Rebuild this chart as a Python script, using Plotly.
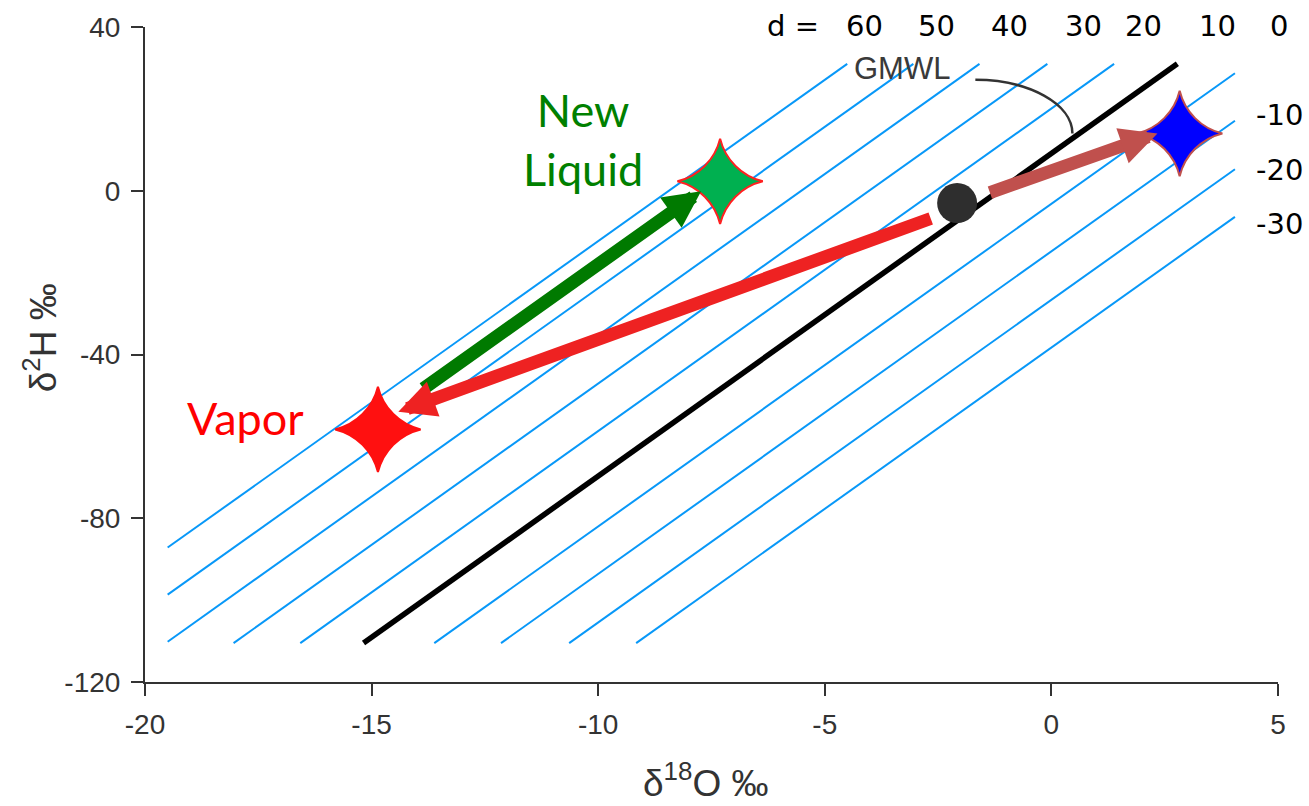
import plotly.graph_objects as go

# ---------------- data ----------------
x_ticks = [-20, -15, -10, -5, 0, 5]
y_ticks = [-120, -80, -40, 0, 40]

# drawn slope of the GMWL and of the d-excess guide lines (delta2H = slope*delta18O + intercept)
line_slope = 7.88
gmwl_intercept = 9.1
dline_intercepts = [66.5, 55.0, 43.5, 31.7, 20.1, -3.2, -14.8, -26.65, -38.3]
# extent of the family of guide lines
box_x = [-19.5, 4.05]
box_y = [-110.5, 31.0]

top_d_labels = ["60", "50", "40", "30", "20", "10", "0"]
right_d_labels = ["-10", "-20", "-30"]

# original water sample (dot)
sample_x = [-2.08]
sample_y = [-3.0]

# stars: new liquid, vapor, residual
star_names = ["New Liquid", "Vapor", "Residual"]
star_x = [-7.31, -14.86, 2.83]
star_y = [2.3, -58.3, 14.0]

# arrows: tail -> tip
arrow_tail_x = [-13.89, -2.63, -1.39]
arrow_tail_y = [-48.6, -6.65, -0.58]
arrow_tip_x = [-7.73, -14.41, 2.34]
arrow_tip_y = [-0.1, -54.0, 14.0]

# ---------------- styles ----------------
BLUE = "#0898F8"
AX = "#333333"
star_fill = ["#00B050", "#FF1010", "#0000FF"]
star_edge = ["#FF2020", "#FF1010", "#C0504D"]
arrow_colors = ["#007A00", "#EE2222", "#C0504D"]


def clip_line(b):
    xs = max(box_x[0], (box_y[0] - b) / line_slope)
    xe = min(box_x[1], (box_y[1] - b) / line_slope)
    return [xs, xe], [line_slope * xs + b, line_slope * xe + b]


fig = go.Figure()

# d-excess guide lines
lx, ly = [], []
for b in dline_intercepts:
    xx, yy = clip_line(b)
    lx += xx + [None]
    ly += yy + [None]
fig.add_trace(go.Scatter(x=lx, y=ly, mode="lines",
                         line=dict(color=BLUE, width=2), hoverinfo="skip"))

# GMWL
gx, gy = clip_line(gmwl_intercept)
fig.add_trace(go.Scatter(x=gx, y=gy, mode="lines", name="GMWL",
                         line=dict(color="black", width=5.5)))

# sample dot
fig.add_trace(go.Scatter(x=sample_x, y=sample_y, mode="markers",
                         marker=dict(symbol="circle", size=40, color="#2E2E2E")))

# arrows (annotations)
annotations = []
for i in range(3):
    annotations.append(dict(
        x=arrow_tip_x[i], y=arrow_tip_y[i], ax=arrow_tail_x[i], ay=arrow_tail_y[i],
        xref="x", yref="y", axref="x", ayref="y", text="", showarrow=True,
        arrowhead=2, arrowsize=0.57, arrowwidth=13, arrowcolor=arrow_colors[i]))

# stars
fig.add_trace(go.Scatter(x=star_x, y=star_y, mode="markers", text=star_names,
                         marker=dict(symbol="star-diamond", size=61, color=star_fill,
                                     line=dict(color=star_edge, width=2))))

# text labels
lab_font = dict(family="Lato, Noto Sans, sans-serif", size=45)
annotations.append(dict(x=-10.34, y=12.4, xref="x", yref="y", text="New<br>Liquid",
                        showarrow=False, font=dict(lab_font, color="#008000")))
annotations.append(dict(x=-17.79, y=-55.6, xref="x", yref="y", text="Vapor",
                        showarrow=False, font=dict(lab_font, color="#FF0000")))
annotations.append(dict(x=-3.30, y=29.8, xref="x", yref="y", text="GMWL",
                        showarrow=False,
                        font=dict(family="Liberation Sans, Arial, sans-serif", size=31,
                                  color="#3A3A3A")))

d_font = dict(family="DejaVu Sans, Verdana, sans-serif", size=29, color="black")
annotations.append(dict(x=0.5719, y=1.0015, xref="paper", yref="paper", text="d =",
                        xanchor="center", yanchor="middle",
                        showarrow=False, font=d_font))
top_pos = [0.6346, 0.6990, 0.7626, 0.8279, 0.8817, 0.9470, 1.0009]
for t, px in zip(top_d_labels, top_pos):
    annotations.append(dict(x=px, y=1.0015, xref="paper", yref="paper", text=t,
                            xanchor="center", yanchor="middle",
                            showarrow=False, font=d_font))
right_pos = [0.865, 0.7815, 0.6995]
for t, py in zip(right_d_labels, right_pos):
    annotations.append(dict(x=1.0009, y=py, xref="paper", yref="paper", text=t,
                            xanchor="center", yanchor="middle",
                            showarrow=False, font=d_font))

# axis titles
title_font = dict(family="Liberation Sans, Arial, sans-serif", size=37, color=AX)
annotations.append(dict(x=0.495, y=-0.151, xref="paper", yref="paper",
                        xanchor="center", yanchor="middle",
                        text="δ<sup>18</sup>O ‰", showarrow=False, font=title_font))
annotations.append(dict(x=-0.0925, y=0.525, xref="paper", yref="paper",
                        xanchor="center", yanchor="middle",
                        text="δ<sup>2</sup>H ‰", textangle=-90, showarrow=False,
                        font=title_font))

# leader arc from GMWL label to the line
shapes = [dict(type="path", xref="x", yref="y",
               path="M -1.678,27.09 C -0.494,27.09 0.464,21.21 0.464,13.98",
               line=dict(color="#333333", width=2.5))]

tick_font = dict(family="Liberation Sans, Arial, sans-serif", size=28, color=AX)

fig.update_layout(
    width=1309, height=806,
    margin=dict(l=145, r=31, t=23, b=124),
    paper_bgcolor="white", plot_bgcolor="white",
    showlegend=False,
    annotations=annotations, shapes=shapes,
    xaxis=dict(range=[-20, 5], tickvals=x_ticks, ticktext=[str(v) for v in x_ticks],
               ticks="outside", ticklen=12,
               tickwidth=2, tickcolor=AX, showline=True, linewidth=2, linecolor=AX,
               showgrid=False, zeroline=False, tickfont=tick_font,
               ticklabelstandoff=4),
    yaxis=dict(range=[-120, 40], tickvals=y_ticks, ticktext=[str(v) for v in y_ticks],
               ticks="outside", ticklen=12,
               tickwidth=2, tickcolor=AX, showline=True, linewidth=2, linecolor=AX,
               showgrid=False, zeroline=False, tickfont=tick_font,
               ticklabelstandoff=5),
)

fig.write_html("out.html")
